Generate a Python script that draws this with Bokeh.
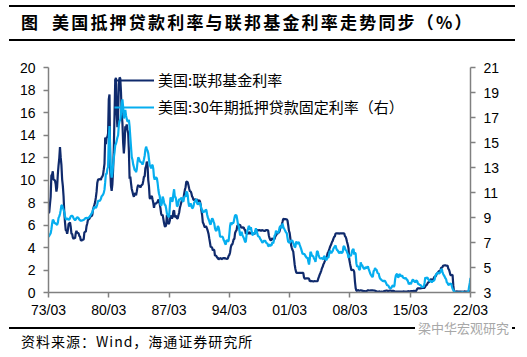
from bokeh.plotting import figure
from bokeh.layouts import column
from bokeh.models import (Range1d, LinearAxis, FixedTicker, Div,
                          Legend, LegendItem, ColumnDataSource)
from bokeh.embed import file_html
from bokeh.resources import INLINE

title_prefix = "图"
title_text = "美国抵押贷款利率与联邦基金利率走势同步（%）"
source_text = "资料来源：Wind，海通证券研究所"
watermark_text = "梁中华宏观研究"
series_names = ["美国:联邦基金利率", "美国:30年期抵押贷款固定利率（右）"]

# monthly, 1973-03 ... 2022-03
fed_funds = [
    7.09, 7.12, 7.84, 8.49, 10.40, 10.50, 10.78, 10.01, 10.03, 9.95,
    9.65, 8.97, 9.35, 10.51, 11.31, 11.93, 12.92, 12.01, 11.34, 10.06, 9.45, 8.53,
    7.13, 6.24, 5.54, 5.49, 5.22, 5.55, 6.10, 6.14, 6.24, 5.82, 5.22, 5.20,
    4.87, 4.77, 4.84, 4.82, 5.29, 5.48, 5.31, 5.29, 5.25, 5.02, 4.95, 4.65,
    4.61, 4.68, 4.69, 4.73, 5.35, 5.39, 5.42, 5.90, 6.14, 6.47, 6.51, 6.56,
    6.70, 6.78, 6.79, 6.89, 7.36, 7.60, 7.81, 8.04, 8.45, 8.96, 9.76, 10.03,
    10.07, 10.06, 10.09, 10.01, 10.24, 10.29, 10.47, 10.94, 11.43, 13.77, 13.18, 13.78,
    13.82, 14.13, 17.19, 17.61, 10.98, 9.47, 9.03, 9.61, 10.87, 12.81, 15.85, 18.90,
    19.08, 15.93, 14.70, 15.72, 18.52, 19.10, 19.04, 17.82, 15.87, 15.08, 13.31, 12.37,
    13.22, 14.78, 14.68, 14.94, 14.45, 14.15, 12.59, 10.12, 10.31, 9.71, 9.20, 8.95,
    8.68, 8.51, 8.77, 8.80, 8.63, 8.98, 9.37, 9.56, 9.45, 9.48, 9.34, 9.47,
    9.56, 9.59, 9.91, 10.29, 10.32, 11.06, 11.23, 11.64, 11.30, 9.99, 9.43, 8.38,
    8.35, 8.50, 8.58, 8.27, 7.97, 7.53, 7.88, 7.90, 7.92, 7.99, 8.05, 8.27,
    8.14, 7.86, 7.48, 6.99, 6.85, 6.92, 6.56, 6.17, 5.89, 5.85, 6.04, 6.91,
    6.43, 6.10, 6.13, 6.37, 6.85, 6.73, 6.58, 6.73, 7.22, 7.29, 6.69, 6.77,
    6.83, 6.58, 6.58, 6.87, 7.09, 7.51, 7.75, 8.01, 8.19, 8.30, 8.35, 8.76,
    9.12, 9.36, 9.85, 9.84, 9.81, 9.53, 9.24, 8.99, 9.02, 8.84, 8.55, 8.45,
    8.23, 8.24, 8.28, 8.26, 8.18, 8.29, 8.15, 8.13, 8.20, 8.11, 7.81, 7.31,
    6.91, 6.25, 6.12, 5.91, 5.78, 5.90, 5.82, 5.66, 5.45, 5.21, 4.81, 4.43,
    4.03, 4.06, 3.98, 3.73, 3.82, 3.76, 3.25, 3.30, 3.22, 3.10, 3.09, 2.92,
    3.02, 3.03, 3.07, 2.96, 3.00, 3.04, 3.06, 3.03, 3.09, 2.99, 3.02, 2.96,
    3.05, 3.25, 3.34, 3.56, 4.01, 4.25, 4.26, 4.47, 4.73, 4.76, 5.29, 5.45,
    5.53, 5.92, 5.98, 6.05, 6.01, 6.00, 5.85, 5.74, 5.80, 5.76, 5.80, 5.60,
    5.56, 5.22, 5.31, 5.22, 5.24, 5.27, 5.40, 5.22, 5.30, 5.24, 5.31, 5.29,
    5.25, 5.19, 5.39, 5.51, 5.50, 5.56, 5.52, 5.54, 5.54, 5.50, 5.52, 5.50,
    5.56, 5.51, 5.49, 5.45, 5.49, 5.56, 5.54, 5.55, 5.51, 5.07, 4.83, 4.68,
    4.63, 4.76, 4.81, 4.74, 4.74, 4.76, 4.99, 5.07, 5.22, 5.20, 5.42, 5.30,
    5.45, 5.73, 5.85, 6.02, 6.27, 6.53, 6.54, 6.50, 6.52, 6.51, 6.51, 6.40,
    5.98, 5.49, 5.31, 4.80, 4.21, 3.97, 3.77, 3.65, 3.07, 2.49, 2.09, 1.82,
    1.73, 1.74, 1.73, 1.75, 1.75, 1.75, 1.73, 1.74, 1.75, 1.75, 1.34, 1.24,
    1.24, 1.26, 1.25, 1.26, 1.26, 1.22, 1.01, 1.03, 1.01, 1.01, 1.00, 0.98,
    1.00, 1.01, 1.00, 1.00, 1.00, 1.03, 1.26, 1.43, 1.61, 1.76, 1.93, 2.16,
    2.28, 2.50, 2.63, 2.79, 3.00, 3.04, 3.26, 3.50, 3.62, 3.78, 4.00, 4.16,
    4.29, 4.49, 4.59, 4.79, 4.94, 4.99, 5.24, 5.25, 5.25, 5.25, 5.25, 5.24,
    5.25, 5.26, 5.26, 5.25, 5.25, 5.25, 5.26, 5.02, 4.94, 4.76, 4.49, 4.24,
    3.94, 2.98, 2.61, 2.28, 1.98, 2.00, 2.01, 2.00, 1.81, 0.97, 0.39, 0.16,
    0.15, 0.22, 0.18, 0.15, 0.18, 0.21, 0.16, 0.16, 0.15, 0.12, 0.12, 0.12,
    0.11, 0.13, 0.16, 0.20, 0.20, 0.18, 0.18, 0.19, 0.19, 0.19, 0.19, 0.18,
    0.17, 0.16, 0.14, 0.10, 0.09, 0.09, 0.07, 0.10, 0.08, 0.07, 0.08, 0.07,
    0.08, 0.10, 0.13, 0.14, 0.16, 0.16, 0.16, 0.13, 0.14, 0.16, 0.16, 0.16,
    0.14, 0.15, 0.14, 0.15, 0.11, 0.09, 0.09, 0.08, 0.08, 0.09, 0.08, 0.09,
    0.07, 0.07, 0.08, 0.09, 0.09, 0.10, 0.09, 0.09, 0.09, 0.09, 0.09, 0.12,
    0.11, 0.11, 0.11, 0.12, 0.12, 0.13, 0.13, 0.14, 0.14, 0.12, 0.12, 0.24,
    0.34, 0.38, 0.36, 0.37, 0.37, 0.38, 0.39, 0.40, 0.40, 0.40, 0.41, 0.54,
    0.65, 0.66, 0.79, 0.90, 0.91, 1.04, 1.15, 1.16, 1.15, 1.15, 1.16, 1.30,
    1.41, 1.42, 1.51, 1.69, 1.70, 1.82, 1.91, 1.91, 1.95, 2.19, 2.20, 2.27,
    2.40, 2.40, 2.41, 2.42, 2.39, 2.38, 2.40, 2.13, 2.04, 1.83, 1.55, 1.55,
    1.55, 1.58, 0.65, 0.05, 0.05, 0.08, 0.09, 0.10, 0.09, 0.09, 0.09, 0.09,
    0.09, 0.08, 0.07, 0.07, 0.06, 0.08, 0.10, 0.09, 0.08, 0.08, 0.08, 0.08,
    0.08, 0.08, 0.20,
]

mortgage_30y = [
    7.46, 7.54, 7.65, 7.73, 8.05, 8.50, 8.82, 8.77, 8.58, 8.54,
    8.54, 8.46, 8.41, 8.58, 8.97, 9.09, 9.28, 9.59, 9.96, 9.98, 9.79, 9.62,
    9.43, 9.10, 8.89, 8.82, 8.91, 8.89, 8.82, 8.84, 8.95, 9.09, 9.14, 9.14,
    9.07, 8.94, 8.84, 8.79, 8.85, 8.96, 9.01, 8.99, 8.93, 8.83, 8.78, 8.74,
    8.75, 8.76, 8.79, 8.80, 8.86, 8.92, 8.96, 8.97, 8.92, 8.94, 9.01, 9.02,
    9.13, 9.22, 9.32, 9.39, 9.60, 9.73, 9.83, 9.83, 9.76, 9.88, 10.06, 10.33,
    10.34, 10.32, 10.37, 10.49, 10.70, 10.75, 10.83, 10.97, 11.23, 11.83, 12.54, 12.45,
    12.88, 13.04, 15.28, 16.32, 14.26, 12.71, 12.19, 12.56, 13.20, 13.79, 14.21, 14.79,
    14.90, 15.13, 15.40, 15.58, 16.40, 16.70, 16.83, 17.29, 18.16, 18.45, 17.83, 16.92,
    17.40, 17.60, 17.16, 16.89, 16.68, 16.70, 16.82, 16.27, 15.43, 14.61, 13.83, 13.62,
    13.25, 13.04, 12.80, 12.78, 12.63, 12.87, 13.42, 13.81, 13.73, 13.54, 13.44, 13.42,
    13.37, 13.23, 13.39, 13.65, 13.94, 14.42, 14.67, 14.47, 14.35, 14.13, 13.64, 13.18,
    13.08, 12.92, 13.17, 13.20, 12.91, 12.22, 12.03, 12.19, 12.19, 12.14, 11.78, 11.26,
    10.88, 10.71, 10.08, 9.94, 10.14, 10.68, 10.51, 10.20, 10.01, 9.98, 9.70, 9.31,
    9.20, 9.08, 9.04, 9.83, 10.60, 10.54, 10.28, 10.33, 10.89, 11.26, 10.65, 10.64,
    10.38, 9.89, 9.93, 10.20, 10.46, 10.46, 10.43, 10.60, 10.48, 10.30, 10.27, 10.61,
    10.73, 10.65, 11.03, 11.05, 10.77, 10.20, 9.88, 9.99, 10.13, 9.95, 9.77, 9.74,
    9.90, 10.20, 10.27, 10.37, 10.48, 10.16, 10.04, 10.10, 10.18, 10.18, 10.01, 9.67,
    9.64, 9.37, 9.50, 9.49, 9.47, 9.62, 9.58, 9.24, 9.01, 8.86, 8.71, 8.50,
    8.43, 8.76, 8.94, 8.85, 8.67, 8.51, 8.13, 7.98, 7.92, 8.09, 8.31, 8.22,
    7.92, 7.50, 7.46, 7.46, 7.47, 7.42, 7.21, 7.11, 6.92, 6.83, 7.16, 7.17,
    7.06, 7.15, 7.68, 8.32, 8.60, 8.40, 8.61, 8.51, 8.64, 8.93, 9.17, 9.20,
    9.15, 8.83, 8.46, 8.32, 7.96, 7.57, 7.61, 7.86, 7.64, 7.48, 7.38, 7.20,
    7.03, 7.08, 7.62, 7.93, 8.07, 8.32, 8.25, 8.00, 8.23, 7.92, 7.62, 7.60,
    7.82, 7.65, 7.90, 8.14, 7.94, 7.69, 7.50, 7.48, 7.43, 7.29, 7.21, 7.10,
    6.99, 7.04, 7.13, 7.14, 7.14, 7.00, 6.95, 6.92, 6.72, 6.71, 6.87, 6.72,
    6.79, 6.81, 7.04, 6.92, 7.15, 7.55, 7.63, 7.94, 7.82, 7.85, 7.74, 7.91,
    8.21, 8.33, 8.24, 8.15, 8.52, 8.29, 8.15, 8.03, 7.91, 7.80, 7.75, 7.38,
    7.03, 7.05, 6.95, 7.08, 7.15, 7.16, 7.13, 6.95, 6.82, 6.62, 6.66, 7.07,
    7.00, 6.89, 7.01, 6.99, 6.81, 6.65, 6.49, 6.29, 6.09, 6.11, 6.07, 6.05,
    5.92, 5.84, 5.75, 5.81, 5.48, 5.23, 5.63, 6.26, 6.15, 5.95, 5.93, 5.88,
    5.71, 5.64, 5.45, 5.83, 6.27, 6.29, 6.06, 5.87, 5.75, 5.72, 5.73, 5.75,
    5.71, 5.63, 5.93, 5.86, 5.72, 5.58, 5.70, 5.82, 5.77, 6.07, 6.33, 6.27,
    6.15, 6.25, 6.32, 6.51, 6.60, 6.68, 6.76, 6.52, 6.40, 6.36, 6.24, 6.14,
    6.22, 6.29, 6.16, 6.18, 6.26, 6.66, 6.70, 6.57, 6.38, 6.38, 6.21, 6.10,
    5.76, 5.92, 5.97, 5.92, 6.04, 6.32, 6.43, 6.48, 6.04, 6.20, 6.09, 5.33,
    5.06, 5.13, 5.00, 4.81, 4.86, 5.42, 5.22, 5.19, 5.06, 4.95, 4.88, 4.93,
    5.03, 4.99, 4.97, 5.10, 4.89, 4.74, 4.56, 4.43, 4.35, 4.23, 4.30, 4.71,
    4.76, 4.95, 4.84, 4.84, 4.64, 4.51, 4.55, 4.27, 4.11, 4.07, 3.99, 3.96,
    3.92, 3.89, 3.95, 3.91, 3.80, 3.68, 3.55, 3.60, 3.50, 3.38, 3.35, 3.35,
    3.41, 3.53, 3.57, 3.45, 3.54, 4.07, 4.37, 4.46, 4.49, 4.19, 4.26, 4.46,
    4.43, 4.30, 4.34, 4.34, 4.19, 4.16, 4.13, 4.12, 4.16, 4.04, 4.00, 3.86,
    3.67, 3.71, 3.77, 3.67, 3.84, 3.98, 4.05, 3.91, 3.89, 3.80, 3.94, 3.96,
    3.87, 3.66, 3.69, 3.61, 3.60, 3.57, 3.44, 3.44, 3.46, 3.47, 3.77, 4.20,
    4.15, 4.17, 4.20, 4.05, 4.01, 3.90, 3.97, 3.88, 3.81, 3.90, 3.92, 3.95,
    4.03, 4.33, 4.44, 4.47, 4.59, 4.57, 4.53, 4.55, 4.63, 4.83, 4.87, 4.64,
    4.46, 4.37, 4.27, 4.14, 4.07, 3.80, 3.77, 3.62, 3.61, 3.69, 3.70, 3.72,
    3.50, 3.30, 3.20, 3.10, 3.02, 3.00, 3.00, 3.00, 3.00, 3.00, 3.00, 3.00,
    3.00, 3.00, 3.02, 3.03, 3.00, 3.00, 3.00, 3.00, 3.00, 3.01, 3.02, 3.05,
    3.45, 3.76, 4.17,
]

month_index = list(range(len(fed_funds)))  # months since 1973-03
x_tick_labels = ["73/03", "80/03", "87/03", "94/03", "01/03", "08/03", "15/03", "22/03"]
x_tick_months = [0, 84, 168, 252, 336, 420, 504, 588]
left_ticks = [0, 2, 4, 6, 8, 10, 12, 14, 16, 18, 20]
right_ticks = [3, 5, 7, 9, 11, 13, 15, 17, 19, 21]

NAVY = "#0F2A6C"
SKY = "#06AEEF"
AXIS_GREY = "#808080"
TICK_FONT = "Liberation Sans"
CJK_FONT = "Noto Sans CJK SC"

W = 527
HEADER_H, FOOTER_H = 45, 37
FIG_H = 357 - HEADER_H - FOOTER_H          # 275
FL, FR = 48, 470                            # frame left/right (canvas px)
FT, FB = 67 - HEADER_H, 292 - HEADER_H      # frame top/bottom inside the figure

p = figure(width=W, height=FIG_H, output_backend="svg", toolbar_location=None,
           x_range=Range1d(0, 588), y_range=Range1d(0, 20),
           min_border_left=FL, min_border_right=W - FR, min_border_top=FT,
           min_border_bottom=FIG_H - FB, margin=0)
p.outline_line_color = None
p.grid.visible = False
p.background_fill_color = "white"
p.border_fill_color = "white"
p.extra_y_ranges = {"right": Range1d(3, 21)}

src = ColumnDataSource(dict(x=month_index, ff=fed_funds, mtg=mortgage_30y))
r_ff = p.line("x", "ff", source=src, line_color=NAVY, line_width=2.2)
r_mtg = p.line("x", "mtg", source=src, line_color=SKY, line_width=2.2, y_range_name="right")

right_axis = LinearAxis(y_range_name="right")
p.add_layout(right_axis, "right")

for ax in [p.xaxis[0], p.yaxis[0], right_axis]:
    ax.axis_line_color = AXIS_GREY
    ax.axis_line_width = 1.5
    ax.major_tick_line_color = AXIS_GREY
    ax.major_tick_line_width = 1.5
    ax.major_tick_in = 0
    ax.major_tick_out = 5
    ax.minor_tick_line_color = None
    ax.major_label_text_font = TICK_FONT
    ax.major_label_text_font_size = "14px"
    ax.major_label_text_color = "black"

p.xaxis[0].ticker = FixedTicker(ticks=x_tick_months)
p.xaxis[0].major_label_overrides = {m: lab for m, lab in zip(x_tick_months, x_tick_labels)}
p.xaxis[0].major_label_standoff = 4
p.yaxis[0].ticker = FixedTicker(ticks=left_ticks)
p.yaxis[0].major_label_standoff = 8
right_axis.ticker = FixedTicker(ticks=right_ticks)
right_axis.major_label_standoff = 8

legend = Legend(items=[LegendItem(label=series_names[0], renderers=[r_ff]),
                       LegendItem(label=series_names[1], renderers=[r_mtg])],
                location=(66, 175), orientation="vertical",
                glyph_width=40, glyph_height=14, label_height=14, spacing=6,
                label_standoff=4, padding=0, margin=0,
                border_line_color=None, background_fill_alpha=0,
                label_text_font=CJK_FONT, label_text_font_size="15px",
                label_text_color="black")
p.add_layout(legend, "center")

FONT_CSS = "'Noto Sans CJK SC', 'Noto Sans', sans-serif"

header_html = f"""
<div style="position:relative;width:{W}px;height:{HEADER_H}px;margin:0;padding:0;">
  <div style="position:absolute;left:9px;top:5px;width:506px;height:2px;background:#000;"></div>
  <div style="position:absolute;left:21px;top:9px;height:26px;line-height:26px;
              font-family:{FONT_CSS};font-size:17px;font-weight:bold;color:#000;
              white-space:nowrap;">{title_prefix}</div>
  <div style="position:absolute;left:52px;top:9px;height:26px;line-height:26px;
              font-family:{FONT_CSS};font-size:17px;font-weight:bold;color:#000;
              letter-spacing:2.2px;white-space:nowrap;">{title_text}</div>
  <div style="position:absolute;left:9px;top:39px;width:506px;height:2px;background:#000;"></div>
</div>
"""

footer_html = f"""
<div style="position:relative;width:{W}px;height:{FOOTER_H}px;margin:0;padding:0;">
  <div style="position:absolute;left:9px;top:7px;width:506px;height:1.5px;background:#000;"></div>
  <div style="position:absolute;left:415px;top:0px;height:16px;line-height:16px;padding:0 3px;
              background:#fff;font-family:{FONT_CSS};font-size:13px;color:#A8A8A8;
              white-space:nowrap;">{watermark_text}</div>
  <div style="position:absolute;left:21px;top:12px;height:18px;line-height:18px;
              font-family:{FONT_CSS};font-size:14px;color:#000;letter-spacing:1px;
              white-space:nowrap;">{source_text}</div>
</div>
"""

header = Div(text=header_html, width=W, height=HEADER_H, margin=0)
footer = Div(text=footer_html, width=W, height=FOOTER_H, margin=0)

page = column(header, p, footer, spacing=0, margin=0)

open("out.html", "w").write(file_html(page, INLINE))
